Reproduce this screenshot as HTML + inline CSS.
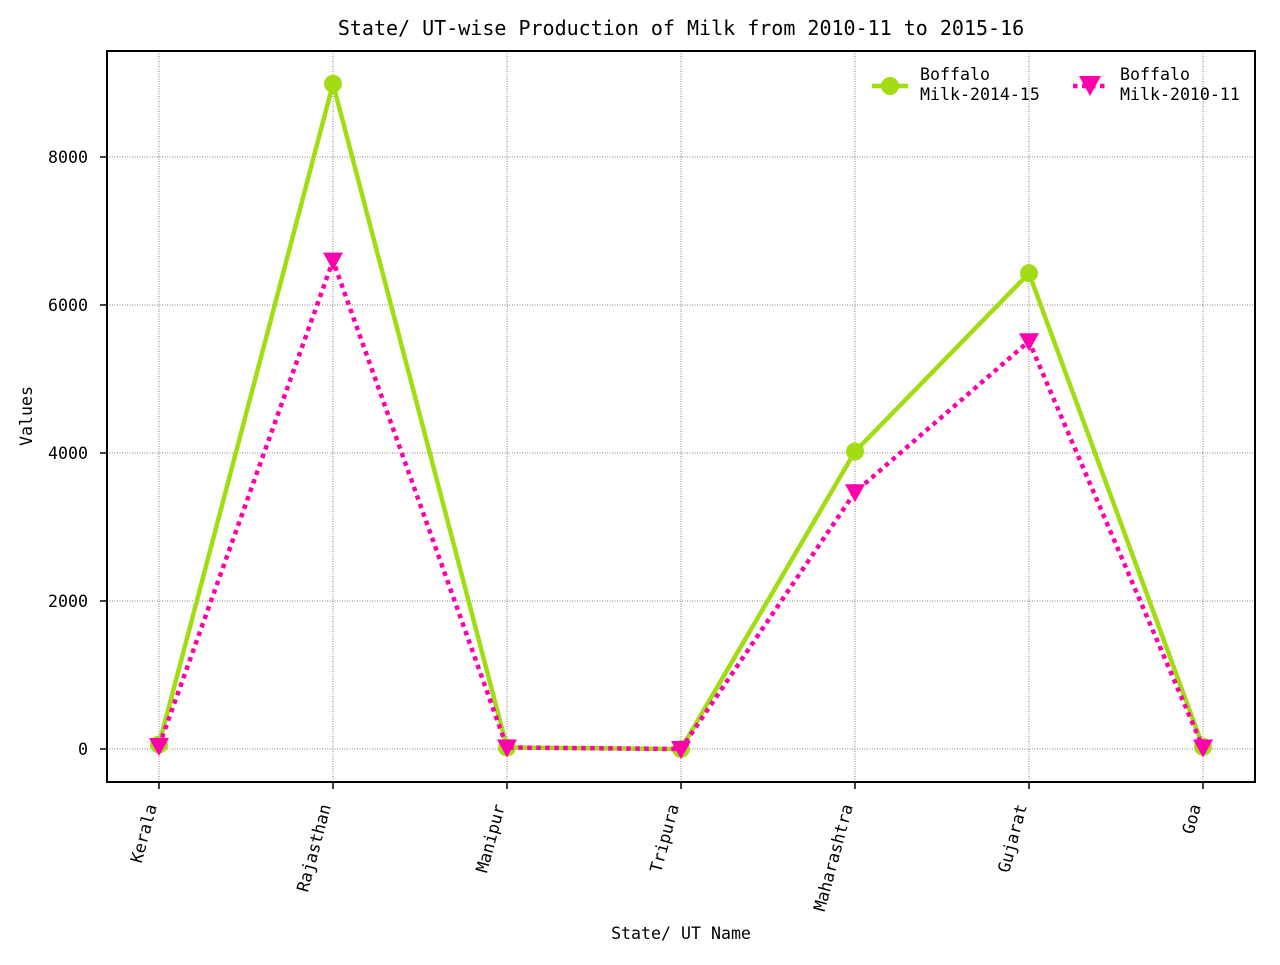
<!DOCTYPE html>
<html><head><meta charset="utf-8"><style>
body{margin:0;background:#fff;}
svg text{font-family:"DejaVu Sans Mono","Liberation Mono",monospace;fill:#000;}
</style></head><body>
<svg id="chart" width="1280" height="960" xmlns="http://www.w3.org/2000/svg">
<rect x="0" y="0" width="1280" height="960" fill="#fff"/>
<text x="681" y="35" text-anchor="middle" font-size="20">State/ UT-wise Production of Milk from 2010-11 to 2015-16</text>
<g id="grid"></g>
<g id="series"></g>
<rect x="107" y="51" width="1148" height="731" fill="none" stroke="#000" stroke-width="2"/>
<g id="axes"></g>
<text x="681" y="939" text-anchor="middle" font-size="16.6">State/ UT Name</text>
<text transform="translate(32,416) rotate(-90)" text-anchor="middle" font-size="16.6">Values</text>
<g>
<g>
<line x1="872" y1="86" x2="908" y2="86" stroke="#a2dc12" stroke-width="4.5"/>
<circle cx="890" cy="86" r="9" fill="#a2dc12"/>
<text x="920" y="80" font-size="16.6">Boffalo</text><text x="920" y="100" font-size="16.6">Milk-2014-15</text>
</g>
<g>
<line x1="1073" y1="86" x2="1109" y2="86" stroke="#ff00aa" stroke-width="4.5" stroke-dasharray="4.5,4.5"/>
<path d="M1079,76 L1101,76 L1090,96 Z" fill="#ff00aa"/>
<text x="1120" y="80" font-size="16.6">Boffalo</text><text x="1120" y="100" font-size="16.6">Milk-2010-11</text>
</g>
</g>
</svg>
<script>
const categories=["Kerala","Rajasthan","Manipur","Tripura","Maharashtra","Gujarat","Goa"];
const milk201415=[60,8990,20,0,4020,6430,30];
const milk201011=[40,6600,20,0,3470,5510,20];
const yTicks=[0,2000,4000,6000,8000];
const NS="http://www.w3.org/2000/svg";
const X=i=>159+i*174;
const Y=v=>749-v*0.074;
const grid=document.getElementById('grid'),axes=document.getElementById('axes'),series=document.getElementById('series');
function mk(tag,attrs,parent){const e=document.createElementNS(NS,tag);for(const k in attrs)e.setAttribute(k,attrs[k]);parent.appendChild(e);return e;}
yTicks.forEach(t=>{
 const g=mk('line',{x1:107,x2:1255,y1:Y(t),y2:Y(t),stroke:'#000','stroke-width':0.5,'stroke-dasharray':'1,1.5'},grid);
 
 
 mk('line',{x1:100,x2:107,y1:Y(t),y2:Y(t),stroke:'#000','stroke-width':1.5},axes);
 const tx=mk('text',{x:88,y:Y(t)+6,'text-anchor':'end','font-size':16.6},axes);tx.textContent=t;
 
 
});
categories.forEach((c,i)=>{
 const g=mk('line',{x1:X(i),x2:X(i),y1:51,y2:782,stroke:'#000','stroke-width':0.5,'stroke-dasharray':'1,1.5'},grid);
 
 
 mk('line',{x1:X(i),x2:X(i),y1:782,y2:789,stroke:'#000','stroke-width':1.5},axes);
 const tx=mk('text',{transform:`translate(${X(i)-2},806) rotate(-75)`,'text-anchor':'end','font-size':16.6},axes);tx.textContent=c;
 
 
});
const p1=mk('polyline',{points:milk201415.map((v,i)=>X(i)+','+Y(v)).join(' '),fill:'none',stroke:'#a2dc12','stroke-width':4.5},series);


milk201415.forEach((v,i)=>{const c=mk('circle',{cx:X(i),cy:Y(v),r:9,fill:'#a2dc12'},series);
 
 });
const p2=mk('polyline',{points:milk201011.map((v,i)=>X(i)+','+Y(v)).join(' '),fill:'none',stroke:'#ff00aa','stroke-width':4.5,'stroke-dasharray':'4.5,4.5'},series);


milk201011.forEach((v,i)=>{const x=X(i),y=Y(v);const m=mk('path',{d:`M${x-10},${y-8} L${x+10},${y-8} L${x},${y+10} Z`,fill:'#ff00aa'},series);
 
 });
</script>
</body></html>
